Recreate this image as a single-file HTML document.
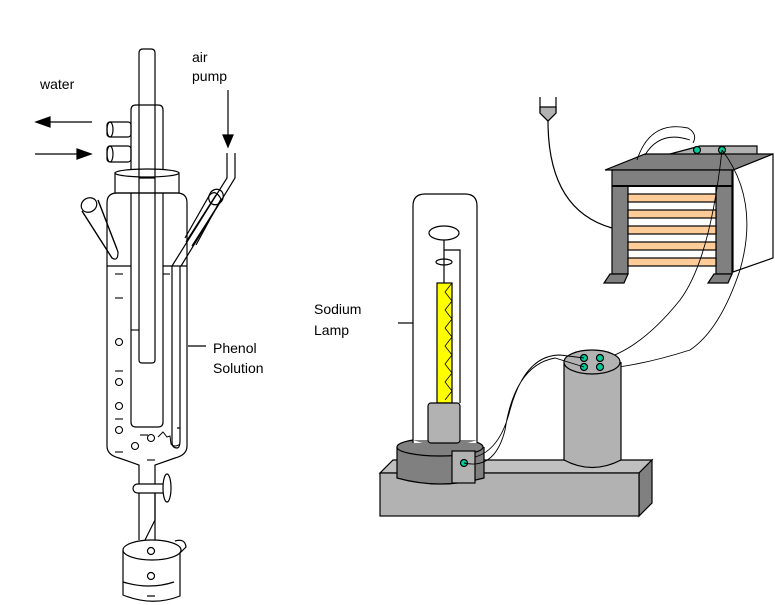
<!DOCTYPE html>
<html><head><meta charset="utf-8"><style>
html,body{margin:0;padding:0;background:#fff;}
svg{display:block;}
text{font-family:"Liberation Sans",sans-serif;font-size:14px;fill:#000;}
</style></head><body>
<svg width="775" height="605" viewBox="0 0 775 605" xmlns="http://www.w3.org/2000/svg" fill="none" stroke="#000" stroke-width="1.2">
<!-- labels -->
<text x="40" y="89" stroke="none">water</text>
<text x="192" y="62" stroke="none">air</text>
<text x="192" y="81" stroke="none">pump</text>
<text x="213" y="353" stroke="none">Phenol</text>
<text x="213" y="373" stroke="none">Solution</text>
<text x="314" y="314" stroke="none">Sodium</text>
<text x="314" y="335" stroke="none">Lamp</text>
<!-- arrows -->
<line x1="50" y1="122" x2="92" y2="122"/><polygon points="36,122 50,117 50,127" fill="#000"/>
<line x1="35" y1="154" x2="78" y2="154"/><polygon points="91,154 77,149 77,159" fill="#000"/>
<line x1="228" y1="90" x2="228" y2="136"/><polygon points="228,147 223,135 233,135" fill="#000"/>
<!-- condenser -->
<path d="M131,170 V110 Q131,105 136,105 H158 Q163,105 163,110 V170"/>
<rect x="107" y="122" width="24" height="15" rx="3"/><ellipse cx="110" cy="129.5" rx="3" ry="7.5"/>
<rect x="107" y="146" width="24" height="16" rx="3"/><ellipse cx="110" cy="154" rx="3" ry="8"/>
<!-- collar -->
<rect x="115" y="173" width="64" height="20" fill="#fff"/>
<ellipse cx="147" cy="173" rx="32" ry="4" fill="#fff"/>
<!-- left arm -->
<path d="M82,211 L112,258 Q118,262 118,252 L98,200" fill="#fff"/>
<line x1="82" y1="211" x2="112" y2="258"/><line x1="98" y1="200" x2="117" y2="249"/>
<ellipse cx="89" cy="205" rx="8" ry="7" transform="rotate(-30 89 205)" fill="#fff"/>
<!-- right arm -->
<path d="M186,242 L216,195 M192,246 L222,199" />
<ellipse cx="216" cy="197" rx="7" ry="8" transform="rotate(30 216 197)"/>
<path d="M185,238 L209,196 Q215,188 221,199 L196,245"/>
<path d="M227,153 V178 L172,266 M235,153 V178 L181,266"/>
<!-- main body -->
<path d="M107,203 Q107,193 117,193 H177 Q187,193 187,203 V446 Q187,455 175,458 L155,465 V540 M107,203 V446 Q107,455 119,458 L139,465 V540"/>
<line x1="107" y1="266" x2="131" y2="266"/><line x1="163" y1="266" x2="187" y2="266"/>
<!-- inner tube -->
<path d="M131,193 V422 Q131,427 136,427 H158 Q163,427 163,422 V193"/>
<!-- rod -->
<path d="M139,193 V53 Q139,49 143,49 H151 Q155,49 155,53 V193 M139,178 H155"/>
<path d="M139,193 V360 Q139,363 142,363 H152 Q155,363 155,360 V193"/>
<!-- gas tube -->
<path d="M172,266 V428 M180,266 V428 M177,428 H180 M172,428 V442 Q172,448 177,448 Q180,448 180,440 V428"/>
<path d="M158,437 L163,432 L167,437 L170,436 L171,444 Q175,448 180,444" stroke-width="1"/>
<!-- bubbles and marks -->
<g stroke-width="1.1">
<circle cx="119" cy="342" r="3.5"/><circle cx="119" cy="382" r="3.5"/><circle cx="119" cy="406" r="3.5"/><circle cx="119" cy="430" r="3.5"/><circle cx="135" cy="446" r="3.5"/><circle cx="151" cy="438" r="3.5"/>
<line x1="115" y1="274" x2="123" y2="274"/><line x1="115" y1="298" x2="123" y2="298"/><line x1="115" y1="371" x2="123" y2="371"/><line x1="115" y1="419" x2="123" y2="419"/><line x1="115" y1="452" x2="123" y2="452"/><line x1="140" y1="435" x2="148" y2="435"/><line x1="147" y1="460" x2="155" y2="460"/>
<line x1="131" y1="330" x2="139" y2="330"/><line x1="163" y1="274" x2="170" y2="274"/>
</g>
<line x1="188" y1="346" x2="206" y2="346"/>
<!-- stopcock -->
<rect x="133" y="484" width="35" height="9" rx="4.5" fill="#fff"/>
<ellipse cx="167" cy="488" rx="4" ry="14" fill="#fff"/>
<path d="M155,493 V520 L145,540"/>
<!-- beaker -->
<path d="M123,550 V595 Q152,607 180,596 V550"/>
<ellipse cx="152" cy="550" rx="29" ry="10" fill="#fff"/>
<path d="M175,541 Q185,538 186,547 L180,553"/>
<path d="M123,582 Q150,590 174,582"/>
<circle cx="151" cy="551" r="3.5"/><circle cx="151" cy="576" r="3.5"/><line x1="147" y1="596" x2="155" y2="596"/>
<!-- funnel -->
<path d="M540,97 V113 L548,121 L556,113 V97"/><path d="M540,107 H556 V113 L548,121 L540,113 Z" fill="#b2b2b2"/>
<path d="M548,121 Q548,210 612,228"/>
<!-- transformer -->
<polygon points="670,154 700,146 757,146 757,156 733,170" fill="#b2b2b2"/>
<polygon points="733,170 773,154 773,258 733,272" fill="#fff"/>
<polygon points="605,170 645,154 773,154 733,170" fill="#808080"/>
<rect x="612" y="170" width="120" height="16" fill="#808080"/>
<rect x="612" y="186" width="16" height="88" fill="#808080"/>
<rect x="716" y="186" width="16" height="88" fill="#808080"/>
<line x1="612" y1="186" x2="732" y2="186" stroke-width="2"/>
<g fill="#ffcc99"><rect x="628" y="194" width="88" height="8"/><rect x="628" y="210" width="88" height="8"/><rect x="628" y="226" width="88" height="8"/><rect x="628" y="242" width="88" height="8"/><rect x="628" y="258" width="88" height="8"/></g>
<polygon points="610,274 628,274 624,283 604,283" fill="#808080"/>
<polygon points="714,274 732,274 728,283 708,283" fill="#808080"/>
<circle cx="697" cy="150" r="3.5" fill="#00cc99"/><circle cx="722" cy="150" r="3.5" fill="#00cc99"/>
<path d="M637,160 Q650,120 688,128 Q698,134 693,143 M645,155 Q660,130 690,140" stroke-width="0.9"/>
<path d="M722,150 Q710,260 680,300 Q640,350 600,360 M722,150 Q760,200 740,270 Q720,330 690,350 Q640,366 600,369" stroke-width="0.9"/>
<!-- base box -->
<polygon points="380,473 393,460 652,460 639,473" fill="#c0c0c0"/>
<polygon points="639,473 652,460 652,503 639,516" fill="#808080"/>
<rect x="380" y="473" width="259" height="43" fill="#b2b2b2"/>
<!-- capacitor -->
<path d="M564,362 V460 Q592,475 621,460 V362" fill="#b2b2b2"/>
<ellipse cx="592" cy="362" rx="28" ry="12" fill="#b2b2b2"/>
<g fill="#00cc99"><circle cx="584" cy="358" r="3.5"/><circle cx="600" cy="358" r="3.5"/><circle cx="584" cy="367" r="3.5"/><circle cx="600" cy="367" r="3.5"/></g>
<!-- lamp base -->
<path d="M397,447 V478 Q440,490 484,478 V447" fill="#808080"/>
<ellipse cx="440" cy="447" rx="43" ry="9" fill="#808080"/>
<!-- lamp tube -->
<path d="M413,443 V206 Q413,194 425,194 H465 Q477,194 477,206 V443" fill="#fff"/>
<path d="M413,440 Q445,452 477,440" fill="#808080" stroke="none"/>
<line x1="398" y1="323" x2="413" y2="323"/>
<ellipse cx="444" cy="233" rx="15" ry="7"/>
<ellipse cx="444" cy="262" rx="8" ry="3"/>
<path d="M444,240 V283 M444,250 H460 V403"/>
<rect x="437" y="283" width="15" height="120" fill="#ffff00"/>
<polyline points="452,283 445,292 452,301 445,310 452,319 445,328 452,337 445,346 452,355 445,364 452,373 445,382 452,391 445,400" stroke-width="0.8"/>
<rect x="428" y="403" width="32" height="40" rx="3" fill="#b2b2b2"/>
<rect x="452" y="451" width="23" height="32" fill="#b2b2b2"/>
<circle cx="464" cy="463" r="3.5" fill="#00cc99"/>
<path d="M475,457 Q500,450 510,410 Q525,355 560,355 L584,358 M464,463 Q495,470 505,430 Q515,365 555,358 L584,367" stroke-width="0.9"/>
</svg>
</body></html>
